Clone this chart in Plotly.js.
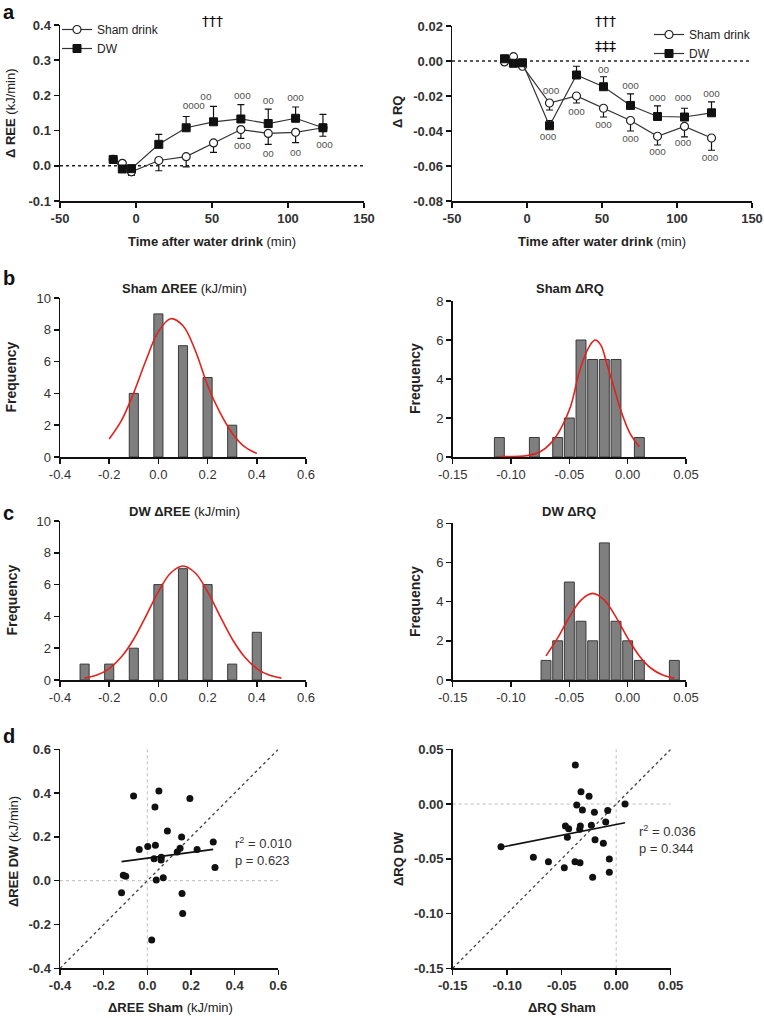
<!DOCTYPE html>
<html><head><meta charset="utf-8">
<script src="https://cdn.plot.ly/plotly-3.0.1.min.js"></script>
<style>html,body{margin:0;padding:0;background:#fff}#chart{width:764px;height:1018px}</style>
</head><body><div id="chart"></div>
<script>
// ---------- Panel a : time course ----------
const timeMin    = [-15, -9, -3, 15, 33, 51, 69, 87, 105, 123];
const reeSham    = [0.018, 0.007, -0.017, 0.015, 0.026, 0.065, 0.103, 0.092, 0.095, 0.108];
const reeShamErr = [0.006, 0.006, 0.010, 0.029, 0.029, 0.027, 0.025, 0.031, 0.029, 0.024];
const reeDW      = [0.018, -0.009, -0.008, 0.061, 0.108, 0.125, 0.133, 0.120, 0.135, 0.108];
const reeDWErr   = [0.008, 0.005, 0.005, 0.028, 0.032, 0.044, 0.041, 0.041, 0.032, 0.038];
const rqSham     = [-0.0005, 0.0025, -0.003, -0.024, -0.020, -0.027, -0.034, -0.043, -0.0374, -0.044];
const rqShamErr  = [0.001, 0.001, 0.001, 0.004, 0.004, 0.005, 0.006, 0.005, 0.006, 0.007];
const rqDW       = [0.0013, -0.0013, -0.001, -0.037, -0.008, -0.0147, -0.0254, -0.0317, -0.032, -0.0296];
const rqDWErr    = [0.001, 0.001, 0.001, 0.003, 0.005, 0.0057, 0.0066, 0.006, 0.005, 0.0063];
const noErr      = [0, 0, 0, 0, 0, 0, 0, 0, 0, 0];

// significance marks (circles) in panel a
const reeSigX    = [38, 46, 70, 87, 105, 70, 87, 105, 124];
const reeSigY    = [0.168, 0.194, 0.196, 0.182, 0.191, 0.054, 0.033, 0.035, 0.058];
const reeSigText = ['oooo', 'oo', 'ooo', 'oo', 'ooo', 'ooo', 'oo', 'oo', 'ooo'];
const rqSigX     = [16, 51, 69, 87, 104, 123, 14, 33, 51, 69, 87, 104, 122];
const rqSigY     = [-0.0177, -0.0053, -0.0147, -0.0216, -0.0216, -0.0191, -0.0439, -0.0292, -0.0366, -0.0448, -0.0525, -0.0473, -0.0559];
const rqSigText  = ['ooo', 'oo', 'ooo', 'ooo', 'ooo', 'ooo', 'ooo', 'ooo', 'ooo', 'ooo', 'ooo', 'ooo', 'ooo'];

// ---------- Panels b, c : histograms ----------
const shamReeBins   = [-0.1, 0.0, 0.1, 0.2, 0.3];
const shamReeCounts = [4, 9, 7, 5, 2];
const shamReeFitX   = [-0.2, -0.15, -0.1, -0.05, 0, 0.05, 0.1, 0.15, 0.2, 0.25, 0.3, 0.35, 0.4];
const shamReeFitY   = [1.13, 2.3, 4.05, 6.1, 7.9, 8.7, 8.25, 6.7, 4.5, 2.8, 1.5, 0.65, 0.22];

const shamRqBins    = [-0.11, -0.08, -0.06, -0.05, -0.04, -0.03, -0.02, -0.01, 0.01];
const shamRqCounts  = [1, 1, 1, 2, 6, 5, 5, 5, 1];
const shamRqFitX    = [-0.11, -0.086, -0.075, -0.066, -0.058, -0.049, -0.041, -0.033, -0.028, -0.023, -0.018, -0.012, -0.006, 0.002, 0.010];
const shamRqFitY    = [0.02, 0.07, 0.27, 0.70, 1.38, 2.58, 4.46, 5.66, 6.0, 5.74, 4.80, 3.61, 2.41, 1.21, 0.53];

const dwReeBins     = [-0.3, -0.2, -0.1, 0.0, 0.1, 0.2, 0.3, 0.4];
const dwReeCounts   = [1, 1, 2, 6, 7, 6, 1, 3];
const dwReeFitX     = [-0.3, -0.25, -0.2, -0.15, -0.1, -0.05, 0, 0.05, 0.1, 0.15, 0.2, 0.25, 0.3, 0.35, 0.4, 0.45, 0.5];
const dwReeFitY     = [0.12, 0.31, 0.72, 1.46, 2.58, 4.04, 5.56, 6.73, 7.17, 6.73, 5.56, 4.04, 2.58, 1.46, 0.72, 0.31, 0.12];

const dwRqBins      = [-0.07, -0.06, -0.05, -0.04, -0.03, -0.02, -0.01, 0.0, 0.01, 0.04];
const dwRqCounts    = [1, 2, 5, 3, 2, 7, 3, 2, 1, 1];
const dwRqFitX      = [-0.07, -0.06, -0.05, -0.04, -0.03, -0.02, -0.01, 0.0, 0.01, 0.02, 0.03, 0.04];
const dwRqFitY      = [1.23, 2.15, 3.21, 4.08, 4.42, 4.08, 3.21, 2.15, 1.23, 0.60, 0.25, 0.09];

// ---------- Panel d : correlations ----------
const reeShamPts = [-0.063, 0.053, 0.035, 0.195, 0.092, 0.157, -0.037, 0.002, 0.037, 0.150, 0.137, 0.228, 0.302, 0.031, 0.064, 0.063, -0.110, -0.099, 0.041, 0.073, 0.310, -0.118, 0.159, 0.162, 0.020];
const reeDWPts   = [0.387, 0.410, 0.337, 0.375, 0.227, 0.200, 0.142, 0.156, 0.162, 0.148, 0.131, 0.142, 0.177, 0.100, 0.107, 0.095, 0.025, 0.020, 0.003, 0.014, 0.060, -0.055, -0.058, -0.150, -0.271];
const reeFitX    = [-0.118, 0.302];
const reeFitY    = [0.087, 0.143];

const rqShamPts = [-0.0375, -0.0323, -0.0249, -0.0362, -0.031, -0.020, -0.0078, 0.0081, -0.0466, -0.0436, -0.0329, -0.0335, -0.0228, -0.0096, -0.0448, -0.0194, -0.0118, -0.1057, -0.076, -0.0622, -0.0476, -0.0378, -0.0332, -0.0063, -0.0063, -0.0216];
const rqDWPts   = [0.0357, 0.0113, 0.0071, -0.0008, -0.0054, -0.0075, -0.006, 0.0001, -0.020, -0.0225, -0.020, -0.023, -0.0194, -0.0164, -0.0304, -0.0325, -0.0358, -0.0389, -0.0486, -0.0526, -0.0581, -0.0526, -0.0535, -0.0502, -0.0623, -0.0669];
const rqFitX    = [-0.1057, 0.0081];
const rqFitY    = [-0.0395, -0.017];

// tick labels
const timeTicks    = [-50, 0, 50, 100, 150];
const timeTickText = ['-50', '0', '50', '100', '150'];
const reeATicks    = [-0.1, 0, 0.1, 0.2, 0.3, 0.4];
const reeATickText = ['-0.1', '0.0', '0.1', '0.2', '0.3', '0.4'];
const rqATicks     = [-0.08, -0.06, -0.04, -0.02, 0, 0.02];
const rqATickText  = ['-0.08', '-0.06', '-0.04', '-0.02', '0.00', '0.02'];
const reeTicks     = [-0.4, -0.2, 0, 0.2, 0.4, 0.6];
const reeTickText  = ['-0.4', '-0.2', '0.0', '0.2', '0.4', '0.6'];
const rqTicks      = [-0.15, -0.1, -0.05, 0, 0.05];
const rqTickText   = ['-0.15', '-0.10', '-0.05', '0.00', '0.05'];
const freqReeTicks = [0, 2, 4, 6, 8, 10];
const freqReeText  = ['0', '2', '4', '6', '8', '10'];
const freqRqTicks  = [0, 2, 4, 6, 8];
const freqRqText   = ['0', '2', '4', '6', '8'];

// ---------- styling / layout ----------
const FONT = 'Liberation Sans, Arial, Helvetica, sans-serif';
const W = 764, H = 1018;
const px = v => v / W;
const py = v => 1 - v / H;

function axis(d0, d1, range, tv, tt, anchor, bold, vertical) {
  return {
    domain: vertical ? [py(d1), py(d0)] : [px(d0), px(d1)],
    range: range, anchor: anchor, tickmode: 'array', tickvals: tv, ticktext: tt,
    showline: true, linecolor: '#111', linewidth: 1.5, mirror: false,
    ticks: 'outside', ticklen: 5, tickwidth: 1.5, tickcolor: '#111',
    showgrid: false, zeroline: false, fixedrange: true,
    tickfont: {family: FONT, size: 13, color: '#333', weight: bold ? 700 : 400}
  };
}

const layout = {
  width: W, height: H, margin: {l: 0, r: 0, t: 0, b: 0},
  paper_bgcolor: '#fff', plot_bgcolor: '#fff',
  font: {family: FONT, color: '#222'},
  showlegend: true,
  xaxis:  axis(60, 364, [-50, 150], timeTicks, timeTickText, 'y', true, false),
  yaxis:  axis(25, 201, [-0.1, 0.4], reeATicks, reeATickText, 'x', true, true),
  xaxis2: axis(452, 752, [-50, 150], timeTicks, timeTickText, 'y2', true, false),
  yaxis2: axis(26, 201, [-0.08, 0.02], rqATicks, rqATickText, 'x2', true, true),
  xaxis3: axis(60, 306, [-0.4, 0.6], reeTicks, reeTickText, 'y3', false, false),
  yaxis3: axis(298, 457, [0, 10], freqReeTicks, freqReeText, 'x3', false, true),
  xaxis4: axis(452.7, 686, [-0.15, 0.05], rqTicks, rqTickText, 'y4', false, false),
  yaxis4: axis(301, 457, [0, 8], freqRqTicks, freqRqText, 'x4', false, true),
  xaxis5: axis(60, 306, [-0.4, 0.6], reeTicks, reeTickText, 'y5', false, false),
  yaxis5: axis(521, 680, [0, 10], freqReeTicks, freqReeText, 'x5', false, true),
  xaxis6: axis(452.7, 686, [-0.15, 0.05], rqTicks, rqTickText, 'y6', false, false),
  yaxis6: axis(523.3, 680, [0, 8], freqRqTicks, freqRqText, 'x6', false, true),
  xaxis7: axis(60, 278.3, [-0.4, 0.6], reeTicks, reeTickText, 'y7', true, false),
  yaxis7: axis(749.3, 968.3, [-0.4, 0.6], reeTicks, reeTickText, 'x7', true, true),
  xaxis8: axis(452.7, 670.7, [-0.15, 0.05], rqTicks, rqTickText, 'y8', true, false),
  yaxis8: axis(749.3, 968.3, [-0.15, 0.05], rqTicks, rqTickText, 'x8', true, true),
  legend:  {x: px(57), y: py(15), xanchor: 'left', yanchor: 'top', bgcolor: 'rgba(0,0,0,0)',
            font: {family: FONT, size: 12, color: '#222'}, itemwidth: 30, tracegroupgap: 0},
  legend2: {x: px(649), y: py(20), xanchor: 'left', yanchor: 'top', bgcolor: 'rgba(0,0,0,0)',
            font: {family: FONT, size: 12, color: '#222'}, itemwidth: 30, tracegroupgap: 0},
  shapes: [], annotations: []
};

// reference lines
const dotZero = (xr, yr) => ({type: 'line', xref: xr + ' domain', yref: yr, x0: 0, x1: 1, y0: 0, y1: 0,
  line: {color: '#222', width: 1.5, dash: 'dot'}, layer: 'below'});
layout.shapes.push(dotZero('x', 'y'), dotZero('x2', 'y2'));
function crossLines(xr, yr, lo, hi) {
  layout.shapes.push(
    {type: 'line', xref: xr, yref: yr + ' domain', x0: 0, x1: 0, y0: 0, y1: 1, line: {color: '#bbb', width: 1, dash: 'dot'}, layer: 'below'},
    {type: 'line', xref: xr + ' domain', yref: yr, x0: 0, x1: 1, y0: 0, y1: 0, line: {color: '#bbb', width: 1, dash: 'dot'}, layer: 'below'},
    {type: 'line', xref: xr, yref: yr, x0: lo, x1: hi, y0: lo, y1: hi, line: {color: '#444', width: 1.3, dash: 'dot'}, layer: 'below'}
  );
}
crossLines('x7', 'y7', -0.4, 0.6);
crossLines('x8', 'y8', -0.15, 0.05);

// annotations
function ann(text, x, y, o) {
  layout.annotations.push(Object.assign({text: text, xref: 'paper', yref: 'paper', x: px(x), y: py(y),
    showarrow: false, xanchor: 'center', yanchor: 'middle', font: {family: FONT, size: 13, color: '#222'}}, o || {}));
}
const big = () => ({xanchor: 'left', font: {family: FONT, size: 20, color: '#111', weight: 700}});
ann('a', 1, 12, big()); ann('b', 1, 278, big()); ann('c', 1, 513, big()); ann('d', 1, 736, big());

// panel a titles
ann('<b>Δ REE</b> (kJ/min)', 11, 113, {textangle: -90});
ann('<b>Δ RQ</b>', 398, 112, {textangle: -90});
ann('<b>Time after water drink</b> (min)', 212, 242);
ann('<b>Time after water drink</b> (min)', 602, 242);
const dagFont = () => ({family: 'DejaVu Sans, Liberation Sans, sans-serif', size: 14, color: '#000'});
layout.annotations.push(
  {text: '†††', xref: 'x', yref: 'paper', x: 50, y: py(11), showarrow: false, font: dagFont()},
  {text: '†††', xref: 'x2', yref: 'paper', x: 52, y: py(11), showarrow: false, font: dagFont()},
  {text: '‡‡‡', xref: 'x2', yref: 'paper', x: 52, y: py(36), showarrow: false, font: dagFont()}
);

// panel b, c titles
ann('<b>Sham ΔREE</b> (kJ/min)', 184, 288);
ann('<b>Sham ΔRQ</b>', 570, 288);
ann('<b>DW ΔREE</b> (kJ/min)', 184, 511);
ann('<b>DW ΔRQ</b>', 569, 512);
const freqOpts = () => ({textangle: -90, font: {family: FONT, size: 14, color: '#222', weight: 700}});
ann('Frequency', 11, 377.5, freqOpts());
ann('Frequency', 415, 379, freqOpts());
ann('Frequency', 11, 600.5, freqOpts());
ann('Frequency', 415, 602, freqOpts());

// panel d titles
ann('<b>ΔREE DW</b> (kJ/min)', 13, 852, {textangle: -90});
ann('<b>ΔRQ DW</b>', 398, 859, {textangle: -90});
ann('<b>ΔREE Sham</b> (kJ/min)', 170, 1007);
ann('<b>ΔRQ Sham</b>', 562, 1007);
layout.annotations.push(
  {text: 'r<sup>2</sup> = 0.010<br>p = 0.623', xref: 'x7', yref: 'y7', x: 0.392, y: 0.134, xanchor: 'left', yanchor: 'middle',
   align: 'left', showarrow: false, font: {family: FONT, size: 13, color: '#333'}},
  {text: 'r<sup>2</sup> = 0.036<br>p = 0.344', xref: 'x8', yref: 'y8', x: 0.0195, y: -0.032, xanchor: 'left', yanchor: 'middle',
   align: 'left', showarrow: false, font: {family: FONT, size: 13, color: '#333'}}
);

// ---------- traces ----------
const errStyle = {type: 'data', symmetric: false, color: '#111', thickness: 1.2, width: 3.5};
function timeTraces(xa, ya, sham, shamErr, dw, dwErr, legendId) {
  return [
    {type: 'scatter', mode: 'lines+markers', name: 'Sham drink', x: timeMin, y: sham, xaxis: xa, yaxis: ya,
     legend: legendId, line: {color: '#333', width: 1.2},
     marker: {symbol: 'circle', size: 8, color: '#fff', line: {color: '#222', width: 1.2}},
     error_y: Object.assign({array: noErr, arrayminus: shamErr}, errStyle)},
    {type: 'scatter', mode: 'lines+markers', name: 'DW', x: timeMin, y: dw, xaxis: xa, yaxis: ya,
     legend: legendId, line: {color: '#333', width: 1.2},
     marker: {symbol: 'square', size: 8, color: '#111', line: {color: '#111', width: 1}},
     error_y: Object.assign({array: dwErr, arrayminus: noErr}, errStyle)}
  ];
}
function sigTrace(xa, ya, x, y, t) {
  return {type: 'scatter', mode: 'text', x: x, y: y, text: t, xaxis: xa, yaxis: ya, showlegend: false,
    textfont: {family: FONT, size: 10, color: '#555'}, textposition: 'middle center', hoverinfo: 'skip', cliponaxis: false};
}
function histTraces(xa, ya, bins, counts, fx, fy, barW) {
  return [
    {type: 'bar', x: bins, y: counts, width: barW, xaxis: xa, yaxis: ya, showlegend: false,
     marker: {color: '#7f7f7f', line: {color: '#3a3a3a', width: 1}}},
    {type: 'scatter', mode: 'lines', x: fx, y: fy, xaxis: xa, yaxis: ya, showlegend: false,
     line: {color: '#e3211c', width: 1.6, shape: 'spline', smoothing: 1}, cliponaxis: false}
  ];
}
function corrTraces(xa, ya, xs, ys, fx, fy) {
  return [
    {type: 'scatter', mode: 'markers', x: xs, y: ys, xaxis: xa, yaxis: ya, showlegend: false,
     marker: {color: '#111', size: 7}},
    {type: 'scatter', mode: 'lines', x: fx, y: fy, xaxis: xa, yaxis: ya, showlegend: false,
     line: {color: '#111', width: 1.6}}
  ];
}

const data = [].concat(
  timeTraces('x', 'y', reeSham, reeShamErr, reeDW, reeDWErr, 'legend'),
  [sigTrace('x', 'y', reeSigX, reeSigY, reeSigText)],
  timeTraces('x2', 'y2', rqSham, rqShamErr, rqDW, rqDWErr, 'legend2'),
  [sigTrace('x2', 'y2', rqSigX, rqSigY, rqSigText)],
  histTraces('x3', 'y3', shamReeBins, shamReeCounts, shamReeFitX, shamReeFitY, 0.037),
  histTraces('x4', 'y4', shamRqBins, shamRqCounts, shamRqFitX, shamRqFitY, 0.0085),
  histTraces('x5', 'y5', dwReeBins, dwReeCounts, dwReeFitX, dwReeFitY, 0.037),
  histTraces('x6', 'y6', dwRqBins, dwRqCounts, dwRqFitX, dwRqFitY, 0.0085),
  corrTraces('x7', 'y7', reeShamPts, reeDWPts, reeFitX, reeFitY),
  corrTraces('x8', 'y8', rqShamPts, rqDWPts, rqFitX, rqFitY)
);

Plotly.newPlot('chart', data, layout, {displayModeBar: false, staticPlot: true});
</script>
</body></html>
